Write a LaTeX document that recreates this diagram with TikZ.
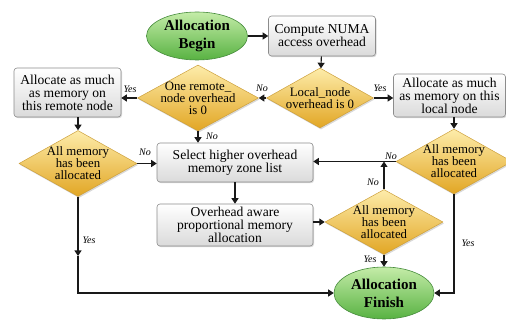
\documentclass[tikz,border=0pt]{standalone}
\usepackage{fontspec}
\setmainfont{Liberation Serif}
\usetikzlibrary{shapes.geometric,arrows.meta,shadows}

\definecolor{boxtop}{RGB}{255,255,255}
\definecolor{boxbot}{RGB}{218,218,218}
\definecolor{boxline}{RGB}{140,140,140}
\definecolor{diatop}{RGB}{253,236,170}
\definecolor{diabot}{RGB}{226,166,36}
\definecolor{dialine}{RGB}{205,160,60}
\definecolor{termtop}{RGB}{196,236,168}
\definecolor{termbot}{RGB}{88,178,66}
\definecolor{termline}{RGB}{70,140,60}
\definecolor{wire}{RGB}{25,25,25}

\tikzset{
  box/.style={rectangle, rounded corners=3pt, draw=boxline, line width=0.6pt,
    top color=boxtop, bottom color=boxbot, inner sep=0pt, align=center,
    font=\fontsize{13.6}{13}\selectfont,
    drop shadow={opacity=0.3, shadow xshift=1pt, shadow yshift=-1.2pt}},
  dia/.style={diamond, draw=dialine, line width=0.5pt,
    top color=diatop, bottom color=diabot, inner sep=0pt,
    drop shadow={opacity=0.3, shadow xshift=1pt, shadow yshift=-1.5pt}},
  dtext/.style={align=center, inner sep=0pt, font=\fontsize{12.8}{12}\selectfont},
  term/.style={ellipse, draw=termline, line width=0.6pt,
    top color=termtop, bottom color=termbot, inner sep=0pt, align=center,
    font=\fontsize{15}{18}\selectfont\bfseries},
  arr/.style={draw=wire, line width=1.1pt, -{Triangle[length=5.5pt,width=7pt]}},
  lab/.style={inner sep=0pt, font=\fontsize{10}{10}\selectfont\itshape}
}

\begin{document}
\begin{tikzpicture}[x=1pt, y=-1pt]
\useasboundingbox (0,0) rectangle (506,320);

% terminals
\node[term, minimum width=101pt, minimum height=48pt] (begin) at (197,36) {Allocation\\Begin};
\node[term, minimum width=100pt, minimum height=52pt] (finish) at (384,293) {Allocation\\Finish};

% process boxes
\node[box, minimum width=107pt, minimum height=40pt] (compute) at (322,36) {Compute NUMA\\access overhead};
\node[box, minimum width=107pt, minimum height=49pt] (lbox) at (67.5,92.5) {Allocate as much\\as memory on\\this remote node};
\node[box, minimum width=112pt, minimum height=43pt] (rbox) at (449.5,95.5) {Allocate as much\\as memory on this\\local node};
\node[box, minimum width=156pt, minimum height=39pt] (select) at (235,162.5) {Select higher overhead\\memory zone list};
\node[box, minimum width=156pt, minimum height=42pt] (over) at (235,225) {Overhead aware\\proportional memory\\allocation};

% decisions
\node[dia, minimum width=107pt, minimum height=60pt,
  label={[dtext]center:{Local\_node\\overhead is 0}}] (local) at (320,98) {};
\node[dia, minimum width=121pt, minimum height=66pt,
  label={[dtext]center:{One remote\_\\node overhead\\is 0}}] (remote) at (198,98) {};
\node[dia, minimum width=118pt, minimum height=66pt,
  label={[dtext]center:{All memory\\has been\\allocated}}] (ldia) at (78,163.5) {};
\node[dia, minimum width=118pt, minimum height=65pt,
  label={[dtext]center:{All memory\\has been\\allocated}}] (mdia) at (384,222) {};
\node[dia, minimum width=116pt, minimum height=65pt,
  label={[dtext]center:{All memory\\has been\\allocated}}] (rdia) at (454,161.5) {};

% connectors
\draw[arr] (begin) -- (compute);
\draw[arr] (compute) -- (local);
\draw[arr] (local) -- (remote);
\draw[arr] (remote.west) -- (remote.west -| lbox.east);
\draw[arr] (local.east) -- (local.east -| rbox.west);
\draw[arr] (ldia.north |- lbox.south) -- (ldia.north);
\draw[arr] (rdia.north |- rbox.south) -- (rdia.north);
\draw[arr] (remote.south) -- (remote.south |- select.north);
\draw[arr] (ldia.east) -- (ldia.east -| select.west);
\draw[arr] (select) -- (over);
\draw[arr] (over.east |- mdia.west) -- (mdia.west);
\coordinate (j) at (mdia.north |- rdia.west);
\draw[arr] (mdia.north) -- (j);
\draw[arr] (rdia.west) -- (rdia.west -| select.east);
\draw[arr] (mdia) -- (finish);
\draw[arr] (rdia.south) |- (finish.east);
\coordinate (lmid) at (78,256);
\draw[arr] (ldia.south) -- (lmid);
\draw[arr] (lmid) |- (finish.west);

% branch labels
\node[lab] (l1) at (262,88) {No};
\node[lab] (l2) at (130,89) {Yes};
\node[lab] (l3) at (212,136) {No};
\node[lab] (l4) at (380,88) {Yes};
\node[lab] (l5) at (145,152) {No};
\node[lab] (l6) at (391,156) {No};
\node[lab] (l7) at (373,182) {No};
\node[lab] (l8) at (370,259) {Yes};
\node[lab] (l9) at (468,243) {Yes};
\node[lab] (l10) at (89,240) {Yes};
\end{tikzpicture}
\end{document}
